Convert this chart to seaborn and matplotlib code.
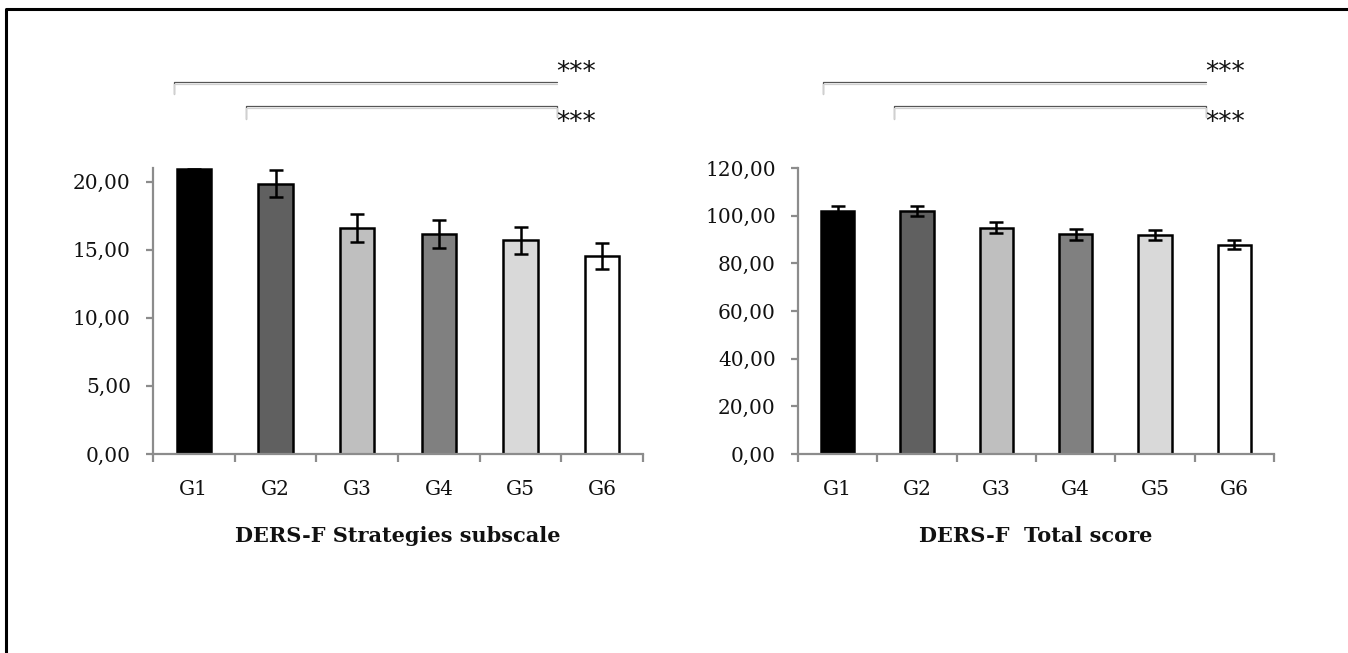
import matplotlib
matplotlib.use("Agg")
import matplotlib.pyplot as plt
from matplotlib.lines import Line2D
from matplotlib.ticker import FuncFormatter
import numpy as np
import pandas as pd
import seaborn as sns

# Data
groups = ["G1", "G2", "G3", "G4", "G5", "G6"]
bar_colors = ["#000000", "#606060", "#bfbfbf", "#808080", "#d9d9d9", "#ffffff"]

strategies_mean = [20.9, 19.85, 16.6, 16.15, 15.7, 14.55]
strategies_err = [0.05, 1.0, 1.05, 1.0, 1.0, 0.95]
total_mean = [102.0, 102.0, 94.9, 92.1, 91.7, 87.9]
total_err = [2.0, 2.0, 2.3, 2.2, 2.1, 2.0]

strategies_ticks = [0, 5, 10, 15, 20]
total_ticks = [0, 20, 40, 60, 80, 100, 120]

W, H = 1348, 653
AXIS_GRAY = "#8c8c8c"

sns.set_theme(style="white")
plt.rcParams["font.family"] = ["DejaVu Serif"]


def px(x, y):
    # pixel position -> figure fraction
    return x / W, 1 - y / H


def comma_fmt(v, pos):
    return f"{v:.2f}".replace(".", ",")


def draw_panel(ax, means, errs, ymax, ticks, xlabel):
    df = pd.DataFrame({"group": groups, "score": means})
    sns.barplot(data=df, x="group", y="score", hue="group", palette=bar_colors,
                width=0.42, edgecolor="black", linewidth=1.8, legend=False, ax=ax)
    ax.errorbar(np.arange(len(groups)), means, yerr=errs, fmt="none", ecolor="black",
                elinewidth=1.8, capsize=5, capthick=1.8, zorder=5)
    ax.set_xlim(-0.5, len(groups) - 0.5)
    ax.set_ylim(0, ymax)
    ax.set_yticks(ticks)
    ax.yaxis.set_major_formatter(FuncFormatter(comma_fmt))
    ax.set_xticks(np.arange(-0.5, len(groups), 1), minor=True)

    for side in ["top", "right"]:
        ax.spines[side].set_visible(False)
    for side in ["left", "bottom"]:
        ax.spines[side].set_color(AXIS_GRAY)
        ax.spines[side].set_linewidth(1.6)

    ax.tick_params(axis="y", which="major", left=True, length=5, width=1.6, color=AXIS_GRAY,
                   direction="out", pad=11, labelsize=14.5, labelcolor="#111111")
    ax.tick_params(axis="x", which="major", length=0, pad=19, labelsize=14.5, labelcolor="#111111")
    ax.tick_params(axis="x", which="minor", bottom=True, length=6, width=1.6, color=AXIS_GRAY,
                   direction="out")
    ax.set_ylabel("")
    ax.set_xlabel(xlabel, fontsize=15, fontweight="bold", labelpad=19, color="#111111")


def bracket(fig, x0, x1, y, leg_left, leg_right):
    for off, col in [(0, "#555555"), (1.5, "#d0d0d0")]:
        xs, ys = [], []
        if leg_left:
            xs.append(x0); ys.append(y + leg_left)
        xs += [x0, x1]; ys += [y + off, y + off]
        if leg_right:
            xs.append(x1); ys.append(y + leg_right)
        pts = [px(a, b) for a, b in zip(xs, ys)]
        fig.add_artist(Line2D([p[0] for p in pts], [p[1] for p in pts], color=col,
                              linewidth=0.9, transform=fig.transFigure))


def stars(fig, x, y):
    fx, fy = px(x, y)
    fig.text(fx, fy, "***", ha="left", va="center", fontsize=19,
             family=["DejaVu Sans"], color="#111111")


fig = plt.figure(figsize=(W / 100, H / 100), dpi=100)
fig.patch.set_facecolor("white")

ax1 = fig.add_axes([153 / W, 1 - 454 / H, (643 - 153) / W, (454 - 168) / H])
ax2 = fig.add_axes([798 / W, 1 - 454 / H, (1274 - 798) / W, (454 - 168) / H])

draw_panel(ax1, strategies_mean, strategies_err, 21, strategies_ticks, "DERS-F Strategies subscale")
draw_panel(ax2, total_mean, total_err, 120, total_ticks, "DERS-F  Total score")

# significance brackets
bracket(fig, 174, 557, 82, 12, 0)
bracket(fig, 246, 557, 106, 13, 11)
stars(fig, 556, 73)
stars(fig, 556, 123)
bracket(fig, 823, 1206, 82, 12, 0)
bracket(fig, 894, 1206, 106, 13, 11)
stars(fig, 1205, 73)
stars(fig, 1205, 123)

# outer frame (left and top edges)
fig.add_artist(Line2D([px(6, 0)[0], px(6, 0)[0], 1], [0, px(0, 9)[1], px(0, 9)[1]],
                      color="black", linewidth=2.2, transform=fig.transFigure))

fig.savefig("out.png", dpi=100)
